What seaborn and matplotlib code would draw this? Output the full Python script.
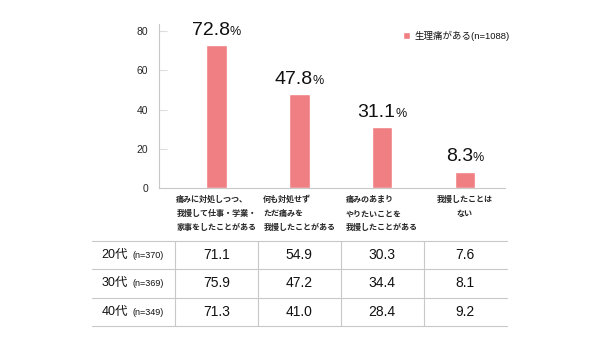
import matplotlib
matplotlib.use("Agg")
import matplotlib.pyplot as plt
import seaborn as sns
import pandas as pd
from matplotlib.offsetbox import TextArea, HPacker, AnnotationBbox

categories = ["痛みに対処しつつ、\n我慢して仕事・学業・\n家事をしたことがある",
              "何も対処せず\nただ痛みを\n我慢したことがある",
              "痛みのあまり\nやりたいことを\n我慢したことがある",
              "我慢したことは\nない"]
overall = [72.8, 47.8, 31.1, 8.3]
series_label = "生理痛がある(n=1088)"
yticks = [0, 20, 40, 60, 80]
age_groups = ["20代", "30代", "40代"]
age_n = ["(n=370)", "(n=369)", "(n=349)"]
age_values = [[71.1, 54.9, 30.3, 7.6],
              [75.9, 47.2, 34.4, 8.1],
              [71.3, 41.0, 28.4, 9.2]]

sns.set_theme(style="white")
plt.rcParams['font.family'] = ['Liberation Sans', 'Noto Sans CJK JP', 'DejaVu Sans']
plt.rcParams['text.color'] = '#111111'

W, H = 600, 350
fig = plt.figure(figsize=(6, 3.5), dpi=100)
fig.patch.set_facecolor('white')

# main axes in pixel geometry
ax_l, ax_r, ax_t, ax_b = 159, 505, 24, 188
ax = fig.add_axes([ax_l / W, 1 - ax_b / H, (ax_r - ax_l) / W, (ax_b - ax_t) / H])

df = pd.DataFrame({"cat": categories, "val": overall})
bar_color = "#EF7F82"
sns.barplot(data=df, x="cat", y="val", color=bar_color, width=0.25,
            label=series_label, ax=ax, saturation=1)

ax.set_ylim(0, 83.6)
x0, x1 = -0.694, 3.484
ax.set_xlim(x0, x1)
ax.set_yticks(yticks)
ax.set_xlabel("")
ax.set_ylabel("")
for s in ["top", "right"]:
    ax.spines[s].set_visible(False)
for s in ["left", "bottom"]:
    ax.spines[s].set_color("#c8c8c8")
    ax.spines[s].set_linewidth(0.8)
ax.tick_params(axis='y', direction='in', length=6, width=0.8, color='#dddddd',
               labelsize=7.5, pad=8, left=True)
ax.tick_params(axis='x', length=0, pad=5)
ax.set_xticks(range(len(categories)))
ax.set_xticklabels(categories, fontsize=5.8, linespacing=1.75, va='top',
                   family=['Noto Sans CJK JP'], weight='bold')
for i, t in enumerate(ax.get_xticklabels()):
    t.set_multialignment('center' if i == 3 else 'left')

# value labels
for i, v in enumerate(overall):
    num = TextArea(f"{v:.1f}", textprops=dict(fontsize=14, color='#111111'))
    pct = TextArea("%", textprops=dict(fontsize=9, color='#111111'))
    pack = HPacker(children=[num, pct], align='baseline', pad=0, sep=0)
    ab = AnnotationBbox(pack, (i, v), xybox=(0, 4.5), xycoords='data',
                        boxcoords='offset points', box_alignment=(0.5, 0),
                        frameon=False)
    ax.add_artist(ab)

leg = ax.legend(loc='upper left', bbox_to_anchor=((403 - ax_l) / (ax_r - ax_l), 1 - (31 - ax_t) / (ax_b - ax_t)),
                frameon=False, fontsize=6.8, handlelength=0.75, handleheight=0.75,
                handletextpad=0.5, borderpad=0, borderaxespad=0)
for t in leg.get_texts():
    t.set_family(['Liberation Sans', 'Noto Sans CJK JP'])

# table axes
t_l, t_r, t_t, t_b = 92, 507, 240.7, 326
tax = fig.add_axes([t_l / W, 1 - t_b / H, (t_r - t_l) / W, (t_b - t_t) / H])
px_per_unit = (ax_r - ax_l) / (x1 - x0)
tx0 = x0 - (ax_l - t_l) / px_per_unit
tx1 = x1 + (t_r - ax_r) / px_per_unit
tax.set_xlim(tx0, tx1)
tax.set_ylim(len(age_groups), 0)
tax.axis('off')
line_c = '#c8c8c8'
for r in range(len(age_groups) + 1):
    tax.plot([tx0, tx1], [r, r], color=line_c, lw=0.8, clip_on=False)
for c in range(len(categories)):
    tax.plot([c - 0.5, c - 0.5], [0, len(age_groups)], color=line_c, lw=0.8, clip_on=False)
for r, (g, n, vals) in enumerate(zip(age_groups, age_n, age_values)):
    ta = TextArea(g, textprops=dict(fontsize=9, color='#111111',
                                    family=['Liberation Sans', 'Noto Sans CJK JP']))
    tb = TextArea(n, textprops=dict(fontsize=6.5, color='#111111'))
    pack = HPacker(children=[ta, tb], align='baseline', pad=0, sep=3)
    ab = AnnotationBbox(pack, (tx0, r + 0.5), xybox=(7, 0), xycoords='data',
                        boxcoords='offset points', box_alignment=(0, 0.5), frameon=False)
    tax.add_artist(ab)
    for c, v in enumerate(vals):
        tax.text(c, r + 0.5, f"{v:.1f}", ha='center', va='center', fontsize=10,
                 color='#111111')

fig.savefig("out.png", dpi=100, facecolor='white')
